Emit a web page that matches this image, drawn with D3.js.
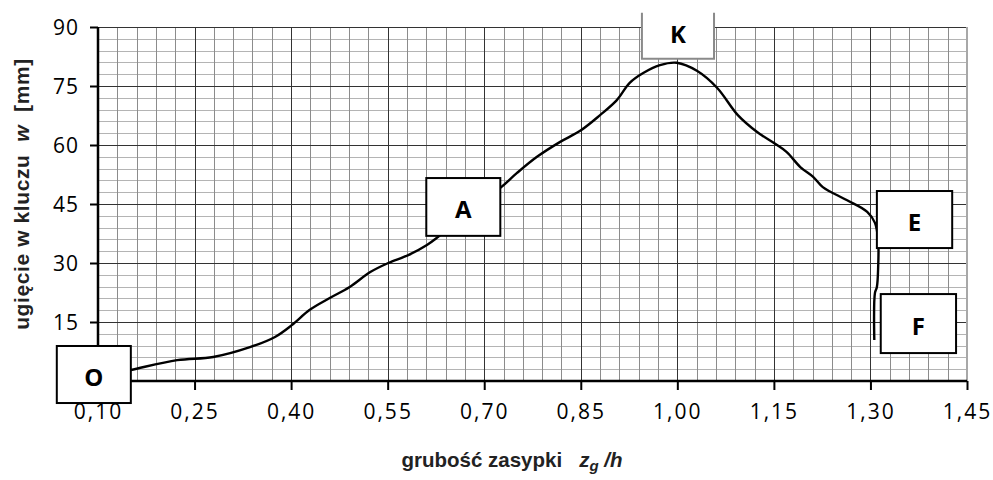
<!DOCTYPE html>
<html>
<head>
<meta charset="utf-8">
<script src="https://cdn.jsdelivr.net/npm/d3@7"></script>
<style>
  body { margin: 0; background: #fff; }
  svg { display: block; }
</style>
</head>
<body>
<div id="wrapper"></div>
<script>
// data: relative fill thickness z_g/h vs crown deflection w [mm]
const thickness = [0.10, 0.151, 0.223, 0.279, 0.336, 0.375, 0.401, 0.429, 0.460, 0.491, 0.523, 0.551, 0.582, 0.611, 0.628, 0.676, 0.725, 0.751, 0.782, 0.818, 0.849, 0.880, 0.906, 0.926, 0.947, 0.973, 0.999, 1.031, 1.062, 1.094, 1.124, 1.152, 1.170, 1.191, 1.211, 1.226, 1.263, 1.295, 1.307, 1.312, 1.312, 1.310, 1.307, 1.306]
const deflection = [1.0, 2.8, 5.3, 6.1, 8.6, 11.2, 14.2, 18.1, 21.1, 23.9, 27.7, 30.0, 32.0, 34.6, 36.6, 43.0, 49.1, 52.9, 57.0, 60.8, 63.6, 67.6, 71.4, 75.8, 78.3, 80.3, 80.9, 78.8, 74.5, 67.6, 63.3, 60.3, 58.2, 54.4, 51.9, 49.3, 46.0, 43.0, 40.2, 35.8, 29.0, 23.9, 22.4, 10.4]

const xTicks = [0.10, 0.25, 0.40, 0.55, 0.70, 0.85, 1.00, 1.15, 1.30, 1.45]
const yTicks = [15, 30, 45, 60, 75, 90]

// labelled stages on the curve, boxes given in data units
const stageLabels = ["O", "A", "K", "E", "F"]
const stageX = [[0.036, 0.151], [0.610, 0.725], [0.945, 1.057], [1.310, 1.427], [1.316, 1.433]]
const stageY = [[-5.6, 8.9], [36.9, 51.6], [81.9, 93.6], [33.8, 48.3], [7.1, 22.1]]

const data = thickness.map((t, i) => ({ t, w: deflection[i] }))
const xAccessor = (d) => d.t
const yAccessor = (d) => d.w

let dimensions = {
  width: 993,
  height: 480,
  margins: { top: 27, right: 26, bottom: 99, left: 98 },
}
dimensions.boundedWidth = dimensions.width - dimensions.margins.left - dimensions.margins.right
dimensions.boundedHeight = dimensions.height - dimensions.margins.top - dimensions.margins.bottom

const wrapper = d3.select("#wrapper")
  .append("svg")
  .attr("width", dimensions.width)
  .attr("height", dimensions.height)

const bounds = wrapper.append("g")
  .attr("transform", `translate(${dimensions.margins.left},${dimensions.margins.top})`)

const xScale = d3.scaleLinear()
  .domain([0.10, 1.45])
  .range([0, dimensions.boundedWidth])

const yScale = d3.scaleLinear()
  .domain([0, 90])
  .range([dimensions.boundedHeight, 0])

// grid: minor every 0.03 / 3 mm, major at the ticks
const minorX = d3.range(0, 46).map((i) => 0.10 + i * 0.03).filter((v) => v <= 1.4501)
const minorY = d3.range(0, 31).map((i) => i * 3)

bounds.append("g")
  .selectAll("line")
  .data(minorY)
  .join("line")
  .attr("x1", 0)
  .attr("x2", dimensions.boundedWidth)
  .attr("y1", (d) => Math.round(yScale(d)) + 0.5)
  .attr("y2", (d) => Math.round(yScale(d)) + 0.5)
  .attr("stroke", "#b4b4b4")
  .attr("stroke-width", 1)

bounds.append("g")
  .selectAll("line")
  .data(minorX)
  .join("line")
  .attr("x1", (d) => Math.round(xScale(d)) + 0.5)
  .attr("x2", (d) => Math.round(xScale(d)) + 0.5)
  .attr("y1", 0)
  .attr("y2", dimensions.boundedHeight)
  .attr("stroke", "#8c8c8c")
  .attr("stroke-width", 1)

bounds.append("g")
  .selectAll("line")
  .data(yTicks)
  .join("line")
  .attr("x1", 0)
  .attr("x2", dimensions.boundedWidth)
  .attr("y1", (d) => Math.round(yScale(d)) + 0.5)
  .attr("y2", (d) => Math.round(yScale(d)) + 0.5)
  .attr("stroke", "#333")
  .attr("stroke-width", 1)

bounds.append("g")
  .selectAll("line")
  .data(xTicks.slice(1, -1))
  .join("line")
  .attr("x1", (d) => Math.round(xScale(d)) + 0.5)
  .attr("x2", (d) => Math.round(xScale(d)) + 0.5)
  .attr("y1", 0)
  .attr("y2", dimensions.boundedHeight)
  .attr("stroke", "#333")
  .attr("stroke-width", 1)

// right border is lighter
bounds.append("line")
  .attr("x1", xScale(1.45))
  .attr("x2", xScale(1.45))
  .attr("y1", 0)
  .attr("y2", dimensions.boundedHeight)
  .attr("stroke", "#a8a8a8")
  .attr("stroke-width", 2)

// the curve
const lineGenerator = d3.line()
  .x((d) => xScale(xAccessor(d)))
  .y((d) => yScale(yAccessor(d)))
  .curve(d3.curveCatmullRom.alpha(0.5))

bounds.append("path")
  .attr("d", lineGenerator(data))
  .attr("fill", "none")
  .attr("stroke", "#000")
  .attr("stroke-width", 2.4)

// axes
const yAxisGenerator = d3.axisLeft(yScale)
  .tickValues(yTicks)
  .tickSize(8)
  .tickPadding(11)
  .tickFormat(d3.format("d"))

const yAxis = bounds.append("g").call(yAxisGenerator)

const xAxisGenerator = d3.axisBottom(xScale)
  .tickValues(xTicks)
  .tickSize(9)
  .tickPadding(11)
  .tickFormat((d) => d3.format(".2f")(d).replace(".", ","))

const xAxis = bounds.append("g")
  .attr("transform", `translate(0,${dimensions.boundedHeight})`)
  .call(xAxisGenerator)

for (const axis of [xAxis, yAxis]) {
  axis.select(".domain").attr("stroke", "#000").attr("stroke-width", 2.5)
  axis.selectAll(".tick line").attr("stroke", "#000").attr("stroke-width", 2)
  axis.selectAll(".tick text")
    .attr("fill", "#000")
    .style("font-family", "'Open Sans', sans-serif")
    .style("font-size", "21px")
    .style("font-weight", "500")
    .style("letter-spacing", "2px")
}
yAxis.select(".domain").attr("d", `M0,${dimensions.boundedHeight}V0`)
yAxis.selectAll(".tick text").attr("dy", "0.36em").style("letter-spacing", "1px")
xAxis.select(".domain").attr("d", `M0,0H${dimensions.boundedWidth}`)
xAxis.selectAll(".tick text").attr("dy", "0.85em")

// stage boxes
stageLabels.forEach((label, i) => {
  const x0 = xScale(stageX[i][0])
  const x1 = xScale(stageX[i][1])
  const y0 = yScale(stageY[i][1])
  const y1 = yScale(stageY[i][0])
  const g = bounds.append("g")
  if (label === "K") {
    g.append("rect")
      .attr("x", x0).attr("y", y0 - 4)
      .attr("width", x1 - x0).attr("height", y1 - y0 + 4)
      .attr("fill", "#fff")
    g.append("path")
      .attr("d", `M${x0},${y0}V${y1}H${x1}V${y0}`)
      .attr("fill", "none")
      .attr("stroke", "#8a8a8a")
      .attr("stroke-width", 2)
  } else {
    g.append("rect")
      .attr("x", x0).attr("y", y0)
      .attr("width", x1 - x0).attr("height", y1 - y0)
      .attr("fill", "#fff")
      .attr("stroke", "#000")
      .attr("stroke-width", 2)
  }
  g.append("text")
    .attr("x", (x0 + x1) / 2)
    .attr("y", (y0 + y1) / 2 + (label === "K" ? -2 : 2))
    .attr("text-anchor", "middle")
    .attr("dominant-baseline", "central")
    .style("font-family", "'Open Sans', sans-serif")
    .style("font-weight", "bold")
    .style("font-size", "24px")
    .text(label)
})

// axis titles
const yTitle = wrapper.append("text")
  .attr("transform", `translate(29,${(50 + 338) / 2}) rotate(-90)`)
  .attr("text-anchor", "middle")
  .style("white-space", "pre")
  .style("font-family", "'Liberation Sans', Arial, sans-serif")
  .style("font-weight", "bold")
  .style("font-size", "21px")
  .style("letter-spacing", "0.6px")
  .style("fill", "#222")
yTitle.append("tspan").text("ugięcie w kluczu  ")
yTitle.append("tspan").style("font-style", "italic").text("w")
yTitle.append("tspan").text("  [mm]")

const xTitle = wrapper.append("text")
  .attr("x", 512)
  .attr("y", 467)
  .attr("text-anchor", "middle")
  .style("white-space", "pre")
  .style("font-family", "'Liberation Sans', Arial, sans-serif")
  .style("font-weight", "bold")
  .style("font-size", "20.5px")
  .style("fill", "#222")
xTitle.append("tspan").text("grubość zasypki   ")
xTitle.append("tspan").style("font-style", "italic").text("z")
xTitle.append("tspan").style("font-style", "italic").style("font-size", "15px").attr("dy", 4).text("g")
xTitle.append("tspan").style("font-style", "italic").attr("dy", -4).text(" /h")
</script>
</body>
</html>
